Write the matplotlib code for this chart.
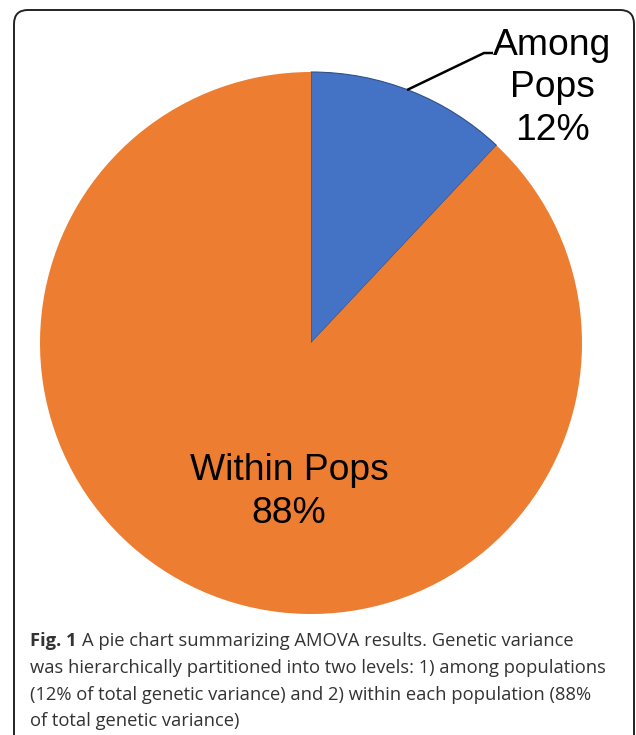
"""AMOVA pie chart: variance among vs within populations."""

import matplotlib

matplotlib.use("Agg")
import matplotlib.pyplot as plt
from matplotlib.patches import FancyBboxPatch

W, H = 636, 735

labels = ["Among\nPops\n12%", "Within Pops\n88%"]
shares = [12, 88]
colors = ["#4472C4", "#ED7D31"]

caption_lines = [
    "A pie chart summarizing AMOVA results. Genetic variance",
    "was hierarchically partitioned into two levels: 1) among populations",
    "(12% of total genetic variance) and 2) within each population (88%",
    "of total genetic variance)",
]


def y(py):
    # pixel row (top-down) -> data y (bottom-up)
    return H - py


fig = plt.figure(figsize=(W / 100, H / 100), dpi=100)
ax = fig.add_axes([0, 0, 1, 1])

# ── pie ──
wedges, _ = ax.pie(
    shares, colors=colors, startangle=90, counterclock=False,
    center=(311, y(343)), radius=271,
    wedgeprops=dict(linewidth=0),
)
wedges[0].set_edgecolor("#2F4F8A")
wedges[0].set_linewidth(0.8)

ax.set_xlim(0, W)
ax.set_ylim(0, H)
ax.set_aspect("auto")
ax.axis("off")

# ── frame ──
frame = FancyBboxPatch(
    (14, y(760)), 620, 750, boxstyle="round,pad=0,rounding_size=14",
    facecolor="none", edgecolor="#222222", linewidth=1.4, zorder=5,
)
ax.add_patch(frame)

# ── slice labels (one text per line, placed on baselines) ──
label_font = dict(family="Liberation Sans", fontsize=26.8, color="black")
for text, b in zip(labels[0].split("\n"), [55, 97, 140]):
    ax.text(552, y(b), text, ha="center", va="baseline", **label_font)
for text, b in zip(labels[1].split("\n"), [480, 523]):
    ax.text(289, y(b), text, ha="center", va="baseline", **label_font)
ax.plot([407, 484, 493], [y(90), y(53), y(53)], color="black", lw=1.8,
        solid_capstyle="butt")

# ── caption ──
cap_font = dict(family="Open Sans", fontsize=13.2, color="#333333")
base = [646, 673, 700, 726]
fig_lbl = ax.text(30, y(base[0]), "Fig. 1", fontweight="bold", va="baseline",
                  **cap_font)
fig.canvas.draw()
bb = fig_lbl.get_window_extent()
ax.text(bb.x1 + 5, y(base[0]), caption_lines[0], va="baseline", **cap_font)
for line, b in zip(caption_lines[1:], base[1:]):
    ax.text(30, y(b), line, va="baseline", **cap_font)

fig.savefig("out.png", dpi=100)
